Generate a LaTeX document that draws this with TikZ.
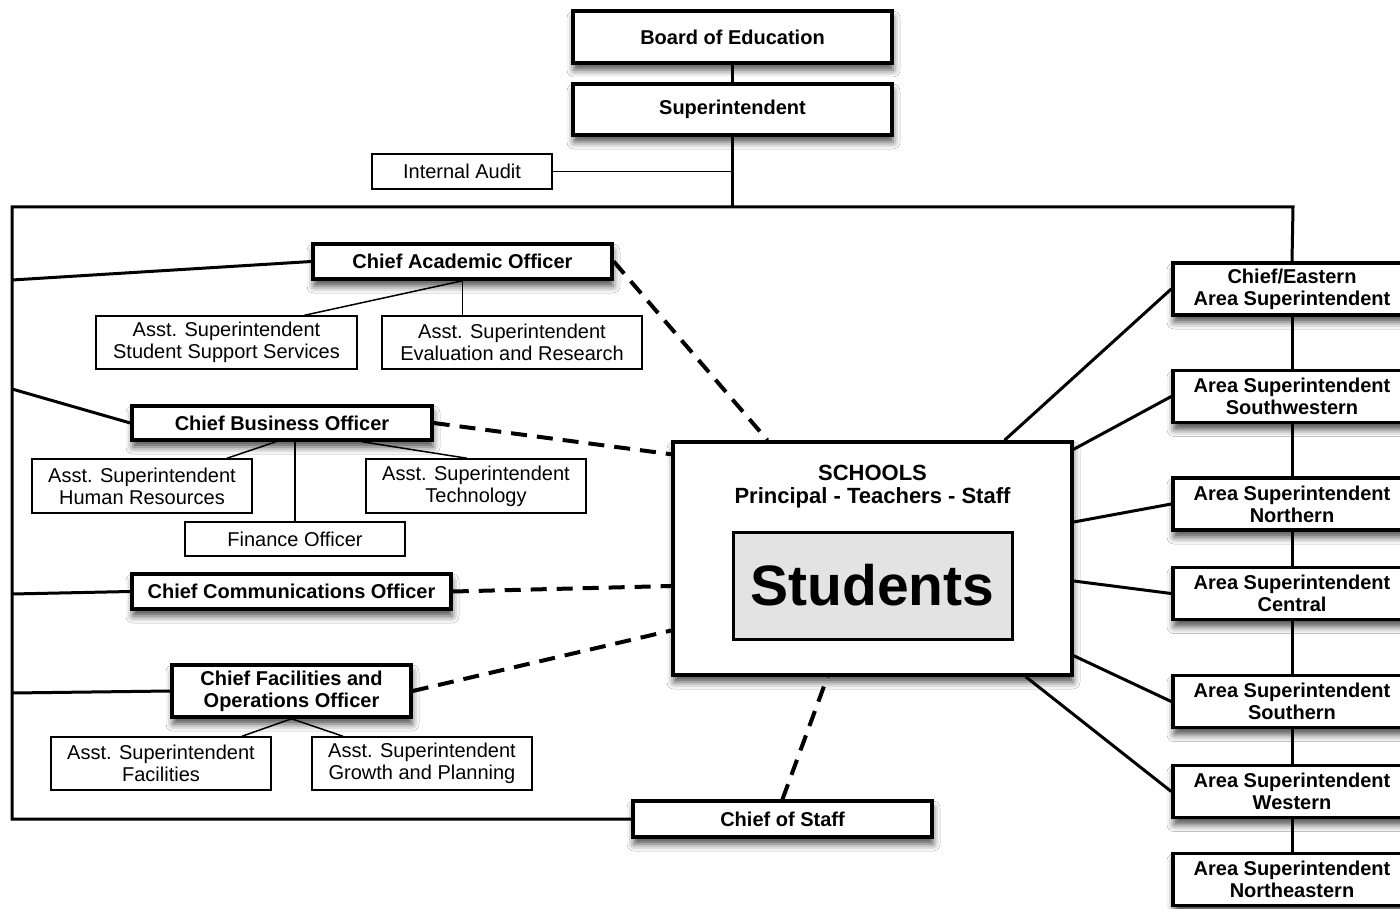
\documentclass[tikz,border=0pt]{standalone}
\usepackage{fontspec}
\setmainfont{Liberation Sans}
\usetikzlibrary{shadows.blur}
\tikzset{
  % caixas principais (borda grossa, com sombra)
  chiefBox/.style={draw, line width=3.5pt, fill=white, inner sep=0pt, align=center,
    font=\fontsize{20}{22}\selectfont\bfseries,
    blur shadow={shadow xshift=1pt, shadow yshift=-7pt, shadow blur radius=7pt, shadow opacity=70}},
  % caixas secundarias (borda fina)
  asstBox/.style={draw, line width=1.5pt, fill=white, inner sep=0pt, align=center,
    font=\fontsize{20}{22}\selectfont},
  areaBox/.style={chiefBox, minimum width=238pt, minimum height=52pt},
  solidLink/.style={line width=3pt},
  thinLink/.style={line width=1.5pt},
  dashLink/.style={line width=4pt, dash pattern=on 16pt off 10pt}
}

\begin{document}
\begin{tikzpicture}[x=1pt, y=-1pt]
  \clip (0,0) rectangle (1400,909);
  \fill[white] (0,0) rectangle (1400,909);

  %% --- TOPO ---
  \node[chiefBox, minimum width=319pt, minimum height=52pt] (board) at (732.5,37) {Board of Education};
  \node[chiefBox, minimum width=319pt, minimum height=51pt] (supt) at (732.5,109.5) {Superintendent};
  \node[asstBox, minimum width=180pt, minimum height=35pt] (audit) at (462,171.5) {Internal Audit};

  % moldura
  \coordinate (fTop) at (732.5,207);
  \coordinate (fTL) at (12,207);
  \coordinate (fTR) at (1293,207);
  \coordinate (fBL) at (12,819);

  %% --- COLUNA ESQUERDA ---
  \node[chiefBox, minimum width=299pt, minimum height=35pt] (cao) at (462.5,261.5) {Chief Academic Officer};
  \node[asstBox, minimum width=261pt, minimum height=53pt] (sss) at (226.5,342.5) {Asst. Superintendent\\Student Support Services};
  \node[asstBox, minimum width=260pt, minimum height=53pt] (eval) at (512,342.5) {Asst. Superintendent\\Evaluation and Research};

  \node[chiefBox, minimum width=300pt, minimum height=34pt] (cbo) at (282,423) {Chief Business Officer};
  \node[asstBox, minimum width=220pt, minimum height=54pt] (hr) at (142,486) {Asst. Superintendent\\Human Resources};
  \node[asstBox, minimum width=220pt, minimum height=54pt] (tech) at (476,486) {Asst. Superintendent\\Technology};
  \node[asstBox, minimum width=220pt, minimum height=34pt] (fin) at (295,539) {Finance Officer};

  \node[chiefBox, minimum width=319pt, minimum height=35pt] (cco) at (291.5,591.5) {Chief Communications Officer};

  \node[chiefBox, minimum width=239pt, minimum height=52pt] (cfo) at (291.5,691) {Chief Facilities and\\Operations Officer};
  \node[asstBox, minimum width=220pt, minimum height=53pt] (fac) at (161,763.5) {Asst. Superintendent\\Facilities};
  \node[asstBox, minimum width=220pt, minimum height=53pt] (grow) at (422,763.5) {Asst. Superintendent\\Growth and Planning};

  \node[chiefBox, minimum width=299pt, minimum height=36pt] (cos) at (782.5,819) {Chief of Staff};

  %% --- ESCOLAS ---
  \node[chiefBox, minimum width=399pt, minimum height=233pt] (schools) at (872.5,558.5) {};
  \node[font=\fontsize{22}{23}\selectfont\bfseries, align=center] (schoolsText) at (872.5,487) {SCHOOLS\\Principal - Teachers - Staff};
  \node[draw, line width=3pt, fill=black!11, inner sep=0pt, minimum width=279pt, minimum height=107pt,
        font=\fontsize{57}{60}\selectfont\bfseries] (students) at (872.5,585.5) {Students};

  %% --- COLUNA DIREITA ---
  \node[areaBox] (east)  at (1292,289)   {Chief/Eastern\\Area Superintendent};
  \node[areaBox] (swest) at (1292,396.5) {Area Superintendent\\Southwestern};
  \node[areaBox] (north) at (1292,504)   {Area Superintendent\\Northern};
  \node[areaBox] (centr) at (1292,593.5) {Area Superintendent\\Central};
  \node[areaBox] (south) at (1292,701.5) {Area Superintendent\\Southern};
  \node[areaBox] (west)  at (1292,791.5) {Area Superintendent\\Western};
  \node[areaBox] (neast) at (1292,879.5) {Area Superintendent\\Northeastern};

  %% --- LIGACOES ---
  \draw[solidLink] (board) -- (supt);
  \draw[solidLink] (supt) -- (fTop);
  \draw[thinLink] (audit.east) -- (supt.south |- audit.east);
  \draw[solidLink] (east.north) -- (fTR) -- (fTL) -- (fBL) -- (cos.west);

  \draw[solidLink] (12,280) -- (cao.west);
  \draw[solidLink] (12,389) -- (cbo.west);
  \draw[solidLink] (12,594) -- (cco.west);
  \draw[solidLink] (12,693) -- (cfo.west);

  \draw[thinLink] (cao.south) -- ([xshift=78pt]sss.north);
  \draw[thinLink] (cao.south) -- (cao.south |- eval.north);
  \draw[thinLink] ([xshift=-6pt]cbo.south) -- ([xshift=85pt]hr.north);
  \draw[thinLink] ([xshift=80pt]cbo.south) -- ([xshift=-9pt]tech.north);
  \draw[thinLink] (fin.north |- cbo.south) -- (fin.north);
  \draw[thinLink] (cfo.south) -- ([xshift=81pt]fac.north);
  \draw[thinLink] (cfo.south) -- ([xshift=-79pt]grow.north);

  % tracejadas ate as escolas
  \draw[dashLink] (cao.east) -- ([xshift=-105pt]schools.north);
  \draw[dashLink] (cbo.east) -- ([yshift=-14pt]schools.north west);
  \draw[dashLink] (cco.east) -- ([yshift=-27.5pt]schools.west);
  \draw[dashLink] (cfo.east) -- ([yshift=-72pt]schools.west);
  \draw[dashLink] (cos.north) -- ([xshift=-45pt]schools.south);

  % escolas -> superintendentes de area
  \draw[solidLink] ([xshift=132pt]schools.north) -- (east.west);
  \draw[solidLink] ([yshift=-9pt]schools.north east) -- (swest.west);
  \draw[solidLink] ([yshift=36.5pt]schools.east) -- (north.west);
  \draw[solidLink] ([yshift=-22.5pt]schools.east) -- (centr.west);
  \draw[solidLink] ([yshift=21pt]schools.south east) -- (south.west);
  \draw[solidLink] ([xshift=-48pt]schools.south east) -- (west.west);

  \draw[solidLink] (east) -- (swest);
  \draw[solidLink] (swest) -- (north);
  \draw[solidLink] (north) -- (centr);
  \draw[solidLink] (centr) -- (south);
  \draw[solidLink] (south) -- (west);
  \draw[solidLink] (west) -- (neast);
\end{tikzpicture}
\end{document}
